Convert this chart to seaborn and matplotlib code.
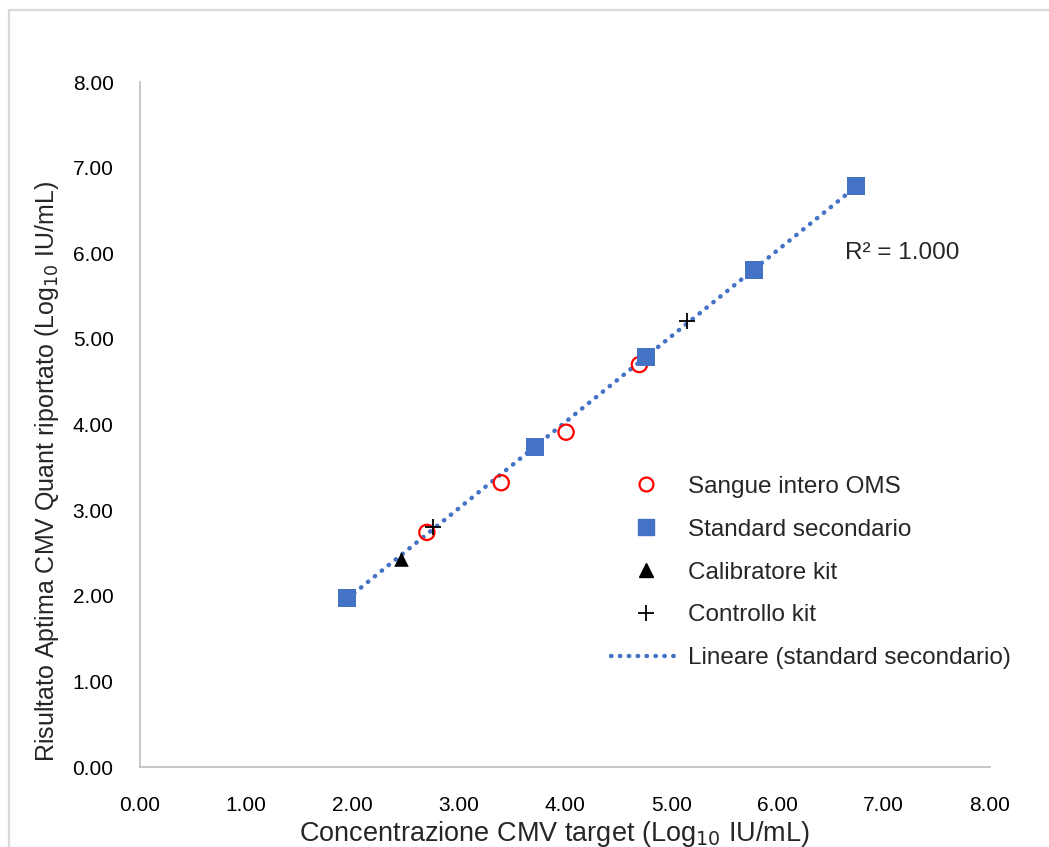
import numpy as np
import pandas as pd
import seaborn as sns
import matplotlib.pyplot as plt
from matplotlib.lines import Line2D
from matplotlib.patches import Rectangle

sns.set_style("white")
plt.rcParams['font.family'] = ['Liberation Sans', 'DejaVu Sans']

# Measured series (Log10 IU/mL): target concentration vs reported result
whole_blood_x = [2.70, 3.40, 4.01, 4.70]
whole_blood_y = [2.74, 3.32, 3.91, 4.70]

secondary_x = [1.95, 3.72, 4.76, 5.78, 6.74]
secondary_y = [1.97, 3.74, 4.79, 5.80, 6.79]

calibrator_x = [2.46]
calibrator_y = [2.43]

control_x = [2.76, 5.15]
control_y = [2.80, 5.21]

r2_text = "R² = 1.000"
ticks = [0, 1, 2, 3, 4, 5, 6, 7, 8]

blue = "#4472C4"
grey = "#D9D9D9"

fig = plt.figure(figsize=(10.49, 8.47), dpi=100)
ax = fig.add_axes([140 / 1049, 1 - 767 / 847, 850 / 1049, 685 / 847])

# thin outer frame around the chart area
fig.patches.append(Rectangle((8.5 / 1049, -0.1), 1.2, 1 - 10.5 / 847 + 0.1,
                             transform=fig.transFigure, fill=False,
                             edgecolor=grey, linewidth=1.6, zorder=0))

sec_df = pd.DataFrame({"x": secondary_x, "y": secondary_y})
sns.regplot(data=sec_df, x="x", y="y", ax=ax, ci=None, scatter=False,
            line_kws=dict(color=blue, linestyle=(0, (0.1, 1.9)), linewidth=3.2,
                          dash_capstyle="round", solid_capstyle="round", zorder=2))

sns.scatterplot(x=whole_blood_x, y=whole_blood_y, ax=ax, marker="o", s=120,
                facecolor="none", edgecolor="#FF0000", linewidth=1.6, zorder=3)
sns.scatterplot(x=secondary_x, y=secondary_y, ax=ax, marker="s", s=150,
                color=blue, edgecolor=blue, linewidth=0, zorder=3)
sns.scatterplot(x=calibrator_x, y=calibrator_y, ax=ax, marker="^", s=110,
                color="black", edgecolor="black", linewidth=0, zorder=4)
sns.scatterplot(x=control_x, y=control_y, ax=ax, marker="+", s=140,
                color="black", linewidth=1.3, zorder=4)

ax.set_xlim(0, 8)
ax.set_ylim(0, 8)
ax.set_xticks(ticks)
ax.set_yticks(ticks)
ax.set_xticklabels([f"{t:.2f}" for t in ticks])
ax.set_yticklabels([f"{t:.2f}" for t in ticks])
ax.tick_params(axis="both", length=0, labelsize=15, colors="#000000")
ax.tick_params(axis="x", pad=21)
ax.tick_params(axis="y", pad=19)

for side in ["top", "right"]:
    ax.spines[side].set_visible(False)
for side in ["left", "bottom"]:
    ax.spines[side].set_color("#BFBFBF")
    ax.spines[side].set_linewidth(1.2)

ax.set_xlabel("Concentrazione CMV target (Log$_{10}$ IU/mL)", fontsize=19.5)
ax.xaxis.set_label_coords(0.488, -0.076)
ax.set_ylabel("Risultato Aptima CMV Quant riportato (Log$_{10}$ IU/mL)", fontsize=18)
ax.yaxis.label.set_verticalalignment("center")
ax.yaxis.set_label_coords(-0.109, 0.432)

ax.text(6.635, 6.0, r2_text, fontsize=17.5, ha="left", va="center")

handles = [
    Line2D([], [], linestyle="none", marker="o", markersize=10, markerfacecolor="none",
           markeredgecolor="#FF0000", markeredgewidth=1.6),
    Line2D([], [], linestyle="none", marker="s", markersize=11.5, color=blue),
    Line2D([], [], linestyle="none", marker="^", markersize=10, color="black"),
    Line2D([], [], linestyle="none", marker="+", markersize=11, color="black",
           markeredgewidth=1.3),
    Line2D([], [], color=blue, linestyle=(0, (0.1, 1.9)), linewidth=3.2,
           dash_capstyle="round"),
]
labels = ["Sangue intero OMS", "Standard secondario", "Calibratore kit",
          "Controllo kit", "Lineare (standard secondario)"]
ax.legend(handles, labels, loc="upper left", bbox_to_anchor=(601 / 1049, 1 - 466 / 847),
          bbox_transform=fig.transFigure, frameon=False, fontsize=17.5,
          handlelength=2.9, handletextpad=0.3, labelspacing=0.86, borderaxespad=0)

ax.set_facecolor("white")
fig.savefig("out.png", dpi=100, facecolor="white")
